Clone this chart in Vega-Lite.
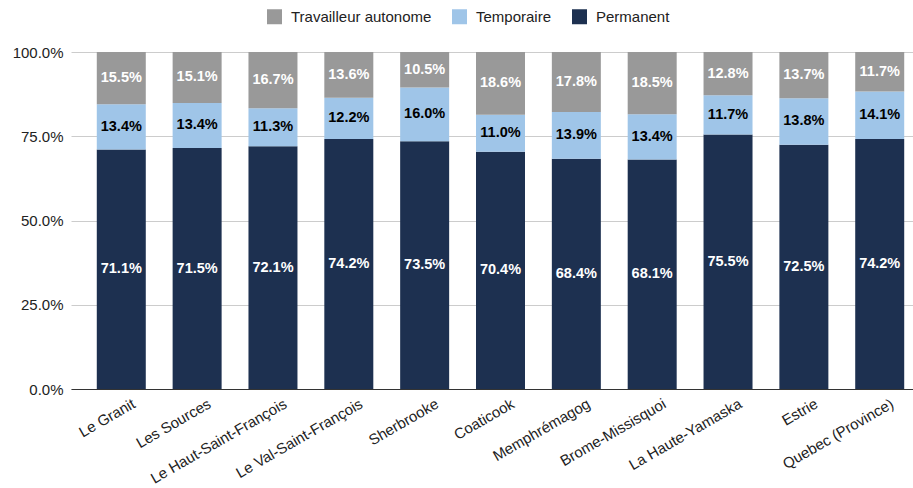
{
  "$schema": "https://vega.github.io/schema/vega-lite/v6.json",
  "width": 859,
  "height": 337,
  "autosize": {"type": "none"},
  "padding": {"left": 71, "top": 52, "right": 0, "bottom": 99},
  "background": "white",
  "config": {
    "view": {"stroke": null},
    "font": "Liberation Sans"
  },
  "data": {
    "values": [
      {"region": "Le Granit", "type": "Permanent", "ord": 1, "value": 0.711},
      {"region": "Le Granit", "type": "Temporaire", "ord": 2, "value": 0.134},
      {"region": "Le Granit", "type": "Travailleur autonome", "ord": 3, "value": 0.155},
      {"region": "Les Sources", "type": "Permanent", "ord": 1, "value": 0.715},
      {"region": "Les Sources", "type": "Temporaire", "ord": 2, "value": 0.134},
      {"region": "Les Sources", "type": "Travailleur autonome", "ord": 3, "value": 0.151},
      {"region": "Le Haut-Saint-François", "type": "Permanent", "ord": 1, "value": 0.721},
      {"region": "Le Haut-Saint-François", "type": "Temporaire", "ord": 2, "value": 0.113},
      {"region": "Le Haut-Saint-François", "type": "Travailleur autonome", "ord": 3, "value": 0.167},
      {"region": "Le Val-Saint-François", "type": "Permanent", "ord": 1, "value": 0.742},
      {"region": "Le Val-Saint-François", "type": "Temporaire", "ord": 2, "value": 0.122},
      {"region": "Le Val-Saint-François", "type": "Travailleur autonome", "ord": 3, "value": 0.136},
      {"region": "Sherbrooke", "type": "Permanent", "ord": 1, "value": 0.735},
      {"region": "Sherbrooke", "type": "Temporaire", "ord": 2, "value": 0.160},
      {"region": "Sherbrooke", "type": "Travailleur autonome", "ord": 3, "value": 0.105},
      {"region": "Coaticook", "type": "Permanent", "ord": 1, "value": 0.704},
      {"region": "Coaticook", "type": "Temporaire", "ord": 2, "value": 0.110},
      {"region": "Coaticook", "type": "Travailleur autonome", "ord": 3, "value": 0.186},
      {"region": "Memphrémagog", "type": "Permanent", "ord": 1, "value": 0.684},
      {"region": "Memphrémagog", "type": "Temporaire", "ord": 2, "value": 0.139},
      {"region": "Memphrémagog", "type": "Travailleur autonome", "ord": 3, "value": 0.178},
      {"region": "Brome-Missisquoi", "type": "Permanent", "ord": 1, "value": 0.681},
      {"region": "Brome-Missisquoi", "type": "Temporaire", "ord": 2, "value": 0.134},
      {"region": "Brome-Missisquoi", "type": "Travailleur autonome", "ord": 3, "value": 0.185},
      {"region": "La Haute-Yamaska", "type": "Permanent", "ord": 1, "value": 0.755},
      {"region": "La Haute-Yamaska", "type": "Temporaire", "ord": 2, "value": 0.117},
      {"region": "La Haute-Yamaska", "type": "Travailleur autonome", "ord": 3, "value": 0.128},
      {"region": "Estrie", "type": "Permanent", "ord": 1, "value": 0.725},
      {"region": "Estrie", "type": "Temporaire", "ord": 2, "value": 0.138},
      {"region": "Estrie", "type": "Travailleur autonome", "ord": 3, "value": 0.137},
      {"region": "Quebec (Province)", "type": "Permanent", "ord": 1, "value": 0.742},
      {"region": "Quebec (Province)", "type": "Temporaire", "ord": 2, "value": 0.141},
      {"region": "Quebec (Province)", "type": "Travailleur autonome", "ord": 3, "value": 0.117}
    ]
  },
  "transform": [
    {"stack": "value", "groupby": ["region"], "sort": [{"field": "ord", "order": "ascending"}], "as": ["v0", "v1"], "offset": "normalize"},
    {"calculate": "(datum.v0 + datum.v1) / 2", "as": "mid"}
  ],
  "encoding": {
    "x": {
      "field": "region",
      "type": "nominal",
      "sort": null,
      "scale": {"paddingInner": 0.354, "paddingOuter": 0.34},
      "axis": {
        "title": null,
        "labelAngle": -30,
        "labelAlign": "right",
        "labelBaseline": "top",
        "labelOffset": 9,
        "labelPadding": 7,
        "labelFontSize": 15,
        "labelColor": "#222222",
        "labelFont": "Liberation Sans",
        "ticks": false,
        "domainColor": "#333333",
        "domainWidth": 1.2,
        "grid": false
      }
    }
  },
  "layer": [
    {
      "mark": {"type": "bar"},
      "encoding": {
        "y": {
          "field": "v0",
          "type": "quantitative",
          "scale": {"domain": [0, 1], "nice": false},
          "axis": {
            "title": null,
            "format": ".1%",
            "values": [0, 0.25, 0.5, 0.75, 1],
            "labelFontSize": 15,
            "labelColor": "#222222",
            "labelFont": "Liberation Sans",
            "labelPadding": 8,
            "ticks": false,
            "domain": false,
            "gridColor": "#cccccc",
            "gridWidth": 1
          }
        },
        "y2": {"field": "v1"},
        "color": {
          "field": "type",
          "type": "nominal",
          "scale": {
            "domain": ["Travailleur autonome", "Temporaire", "Permanent"],
            "range": ["#999999", "#9fc5e8", "#1d3050"]
          },
          "legend": {
            "title": null,
            "orient": "none",
            "direction": "horizontal",
            "legendX": 196,
            "legendY": -43,
            "symbolType": "square",
            "symbolSize": 225,
            "symbolStrokeWidth": 0,
            "labelFontSize": 15,
            "labelColor": "#222222",
            "labelFont": "Liberation Sans",
            "columnPadding": 20,
            "labelOffset": 9
          }
        }
      }
    },
    {
      "mark": {"type": "text", "fontSize": 14.5, "fontWeight": "bold", "font": "Liberation Sans", "baseline": "middle"},
      "encoding": {
        "y": {"field": "mid", "type": "quantitative"},
        "text": {"field": "value", "type": "quantitative", "format": ".1%"},
        "color": {
          "condition": {"test": "datum.type === 'Temporaire'", "value": "#000000"},
          "value": "#ffffff"
        }
      }
    }
  ]
}
